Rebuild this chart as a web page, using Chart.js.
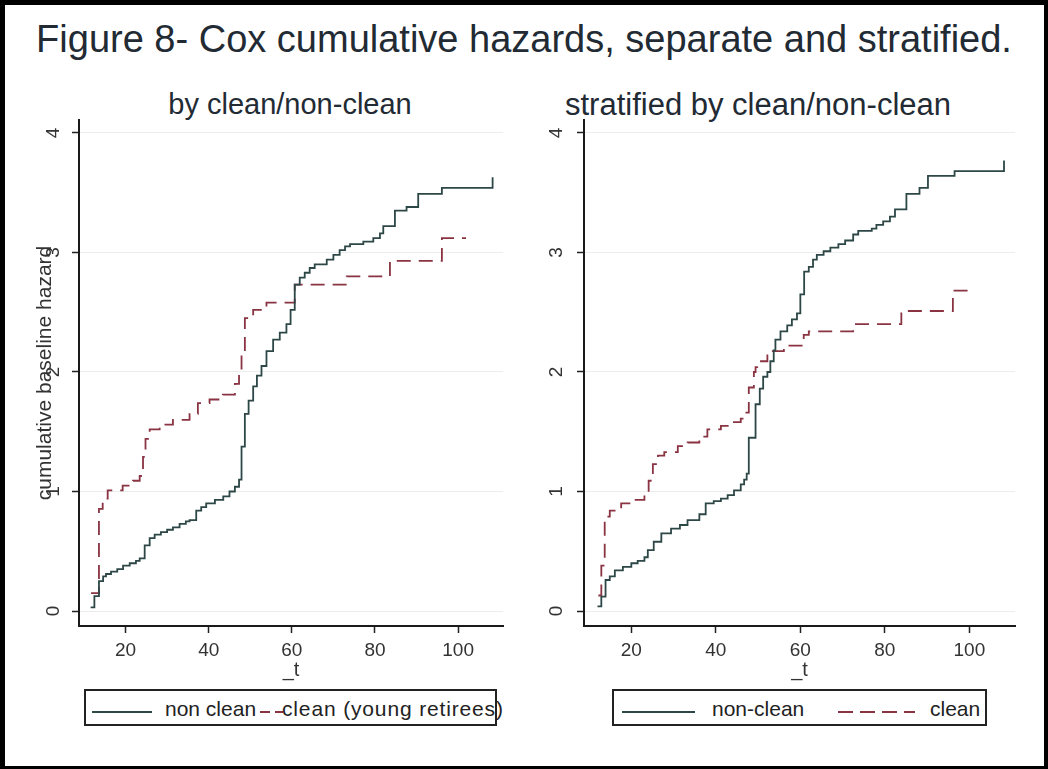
<!DOCTYPE html>
<html lang="en">
<head>
<meta charset="utf-8">
<title>Figure 8- Cox cumulative hazards, separate and stratified.</title>
<script src="https://cdn.jsdelivr.net/npm/chart.js"></script>
<style>
  body { margin: 0; background: #fff; }
  #page { position: relative; width: 1048px; height: 769px; background: #fff;
          font-family: 'Liberation Sans', Arial, sans-serif; color: #222a33; overflow: hidden; }
  #frame { position: absolute; left: 0; top: 0; width: 1048px; height: 769px; box-sizing: border-box;
           border-style: solid; border-color: #000; border-width: 5px 4px 3px 5px; pointer-events: none; }
  .txt { position: absolute; white-space: nowrap; }
  .title { top: 20px; left: 0; width: 1048px; text-align: center; font-size: 38px; line-height: 38px; }
  .sub { text-align: center; width: 500px; }
  canvas { position: absolute; }
  .legbox { position: absolute; top: 689px; height: 37px; box-sizing: border-box; border: 2px solid #222; }
  .legtxt { position: absolute; top: 698px; font-size: 21px; line-height: 21px; white-space: nowrap; color: #222; }
  svg.sample { position: absolute; top: 706px; height: 12px; overflow: visible; }
</style>
</head>
<body>
<div id="page">
  <div class="txt title">Figure 8- Cox cumulative hazards, separate and stratified.</div>
  <div class="txt sub" style="left:40px; top:90px; font-size:29px; line-height:29px">by clean/non-clean</div>
  <div class="txt sub" style="left:508px; top:89px; font-size:31px; line-height:31px">stratified by clean/non-clean</div>

  <canvas id="leftChart" width="500" height="575" style="left:20px; top:112px"></canvas>
  <canvas id="rightChart" width="500" height="575" style="left:530px; top:112px"></canvas>

  <!-- legends -->
  <div class="legbox" style="left:84px; width:413px"></div>
  <svg class="sample" style="left:92px" width="60"><line x1="0" y1="6" x2="60" y2="6" stroke="#2d4747" stroke-width="2"/></svg>
  <div class="legtxt" style="left:165px">non clean</div>
  <svg class="sample" style="left:260px" width="23"><line x1="0" y1="6" x2="23" y2="6" stroke="#8a3342" stroke-width="2" stroke-dasharray="10 5"/></svg>
  <div class="legtxt" style="left:282px; letter-spacing:0.85px">clean (young retirees)</div>

  <div class="legbox" style="left:612px; width:375px"></div>
  <svg class="sample" style="left:622px" width="73"><line x1="0" y1="6" x2="73" y2="6" stroke="#2d4747" stroke-width="2"/></svg>
  <div class="legtxt" style="left:712px">non-clean</div>
  <svg class="sample" style="left:838px" width="77"><line x1="0" y1="6" x2="77" y2="6" stroke="#8a3342" stroke-width="2" stroke-dasharray="15 7"/></svg>
  <div class="legtxt" style="left:930px">clean</div>

  <div id="frame"></div>
</div>

<script>
  // axis ticks (same on both panels)
  const xTicks = [20, 40, 60, 80, 100];
  const yTicks = [0, 1, 2, 3, 4];

  // left panel: by clean/non-clean  (time of jump, cumulative hazard after jump)
  const leftNonCleanT = [11.6, 12.5, 13.6, 14.6, 15.3, 16.5, 18.0, 19.4, 21.0, 22.5, 23.4, 24.6, 25.8, 27.0, 28.5,
    30.0, 31.4, 33.0, 34.5, 35.4, 37.0, 38.2, 39.4, 41.5, 43.5, 45.0, 46.3, 47.3, 47.9, 48.7, 49.6, 50.7, 51.6,
    52.7, 53.9, 55.5, 57.1, 58.7, 59.7, 60.7, 61.9, 63.1, 64.3, 65.5, 68.4, 70.0, 71.5, 72.8, 74.0, 77.2, 79.6,
    81.2, 82.0, 84.8, 87.6, 90.4, 96.1, 108.3];
  const leftNonCleanH = [0.03, 0.125, 0.25, 0.29, 0.31, 0.33, 0.35, 0.38, 0.40, 0.42, 0.44, 0.55, 0.61, 0.64, 0.66,
    0.68, 0.70, 0.73, 0.75, 0.76, 0.84, 0.87, 0.90, 0.93, 0.96, 1.00, 1.04, 1.10, 1.375, 1.65, 1.76, 1.88, 1.97,
    2.05, 2.175, 2.27, 2.33, 2.40, 2.52, 2.73, 2.79, 2.83, 2.87, 2.90, 2.94, 2.98, 3.02, 3.05, 3.07, 3.09, 3.12,
    3.16, 3.22, 3.35, 3.38, 3.49, 3.54, 3.63];
  const leftCleanT = [11.7, 13.6, 14.5, 15.7, 19.3, 21.8, 23.4, 24.2, 24.8, 25.8, 28.2, 31.4, 35.4, 37.4, 40.2,
    43.4, 46.3, 47.3, 47.9, 48.7, 50.7, 53.9, 60.7, 73.2, 83.6, 96.1, 101.9];
  const leftCleanH = [0.15, 0.855, 0.94, 1.01, 1.05, 1.09, 1.13, 1.29, 1.44, 1.52, 1.56, 1.60, 1.65, 1.74, 1.77,
    1.81, 1.90, 2.00, 2.17, 2.45, 2.52, 2.58, 2.73, 2.80, 2.93, 3.12, 3.12];

  // right panel: stratified by clean/non-clean
  const rightNonCleanT = [12.0, 12.9, 13.9, 14.9, 16.1, 18.0, 20.0, 21.5, 23.1, 23.9, 25.3, 27.1, 29.4, 31.5, 33.3,
    36.1, 37.6, 39.5, 41.2, 42.8, 44.3, 45.9, 46.7, 47.3, 47.8, 49.4, 50.4, 51.2, 52.2, 52.9, 53.7, 54.1, 55.3,
    56.9, 58.0, 59.2, 60.0, 60.9, 62.0, 63.0, 63.9, 65.5, 67.1, 69.0, 70.6, 72.5, 73.7, 76.9, 78.0, 79.6, 81.2,
    82.4, 85.1, 88.2, 90.2, 96.5, 108.2];
  const rightNonCleanH = [0.04, 0.12, 0.26, 0.29, 0.34, 0.37, 0.40, 0.42, 0.45, 0.51, 0.58, 0.65, 0.69, 0.72, 0.76,
    0.81, 0.90, 0.92, 0.94, 0.97, 1.01, 1.06, 1.10, 1.15, 1.45, 1.73, 1.86, 1.96, 2.00, 2.09, 2.18, 2.27, 2.34,
    2.39, 2.44, 2.49, 2.65, 2.84, 2.88, 2.94, 2.98, 3.01, 3.04, 3.07, 3.10, 3.15, 3.18, 3.20, 3.23, 3.26, 3.30,
    3.36, 3.49, 3.54, 3.64, 3.68, 3.77];
  const rightCleanT = [12.2, 12.9, 13.7, 14.9, 17.6, 20.0, 23.1, 24.1, 25.1, 26.3, 27.8, 31.0, 33.3, 36.1, 38.0,
    41.2, 43.5, 45.9, 46.8, 47.8, 49.0, 49.4, 49.8, 52.2, 56.1, 60.8, 62.0, 72.5, 83.9, 96.1, 100.8];
  const rightCleanH = [0.13, 0.38, 0.79, 0.84, 0.90, 0.93, 0.98, 1.09, 1.23, 1.30, 1.33, 1.38, 1.41, 1.46, 1.52,
    1.55, 1.58, 1.61, 1.66, 1.87, 2.00, 2.04, 2.09, 2.175, 2.22, 2.31, 2.34, 2.40, 2.51, 2.68, 2.68];

  const nonCleanColor = '#2d4747';
  const cleanColor = '#8a3342';

  Chart.defaults.font.family = "'Liberation Sans', Arial, sans-serif";
  Chart.defaults.color = '#333';

  function pts(ts, hs) {
    return ts.map((t, i) => ({x: t, y: hs[i]}));
  }

  function makeChart(id, nonT, nonH, clT, clH, o) {
    const ctx = document.getElementById(id).getContext('2d');
    return new Chart(ctx, {
      type: 'line',
      data: {
        datasets: [
          { label: 'non clean', data: pts(nonT, nonH), borderColor: nonCleanColor, borderWidth: 1.8,
            stepped: true, pointRadius: 0, fill: false },
          { label: 'clean', data: pts(clT, clH), borderColor: cleanColor, borderWidth: 1.8,
            borderDash: [14, 8], stepped: true, pointRadius: 0, fill: false }
        ]
      },
      options: {
        responsive: false,
        animation: false,
        devicePixelRatio: 1,
        layout: { padding: { left: 0, top: 8, right: o.padRight, bottom: 0 } },
        plugins: { legend: { display: false }, tooltip: { enabled: false } },
        scales: {
          x: {
            type: 'linear', min: 8.8, max: 110.8,
            afterBuildTicks: s => { s.ticks = xTicks.map(v => ({value: v})); },
            afterFit: s => { s.height = 61; s.paddingLeft = 0; s.paddingRight = 0; },
            grid: { drawOnChartArea: false, tickLength: 7, tickColor: '#222', tickWidth: 1.5 },
            border: { color: '#1a1a1a', width: 2 },
            ticks: { font: { size: 19 }, padding: 6, color: '#333', maxRotation: 0 },
            title: { display: true, text: '_t', font: { size: 20 }, color: '#333', padding: { top: 0, bottom: 5 } }
          },
          y: {
            min: -0.125, max: 4.108,
            afterBuildTicks: s => { s.ticks = yTicks.map(v => ({value: v})); },
            afterFit: s => { s.width = o.yWidth; s.paddingTop = 0; s.paddingBottom = 0; },
            grid: { color: '#ececec', lineWidth: 1, tickLength: 7, tickColor: '#222', tickWidth: 1.5 },
            border: { color: '#1a1a1a', width: 2 },
            ticks: { font: { size: 19 }, padding: o.tickPad, color: '#333', minRotation: 90, maxRotation: 90,
                     crossAlign: 'center' },
            title: { display: o.yTitle, text: 'cumulative baseline hazard', font: { size: 21 }, color: '#333',
                     padding: { top: 13, bottom: 0 } }
          }
        }
      }
    });
  }

  makeChart('leftChart', leftNonCleanT, leftNonCleanH, leftCleanT, leftCleanH,
    { padRight: 17, yWidth: 59, tickPad: 13, yTitle: true });
  makeChart('rightChart', rightNonCleanT, rightNonCleanH, rightCleanT, rightCleanH,
    { padRight: 15, yWidth: 54, tickPad: 15, yTitle: false });
</script>
</body>
</html>
